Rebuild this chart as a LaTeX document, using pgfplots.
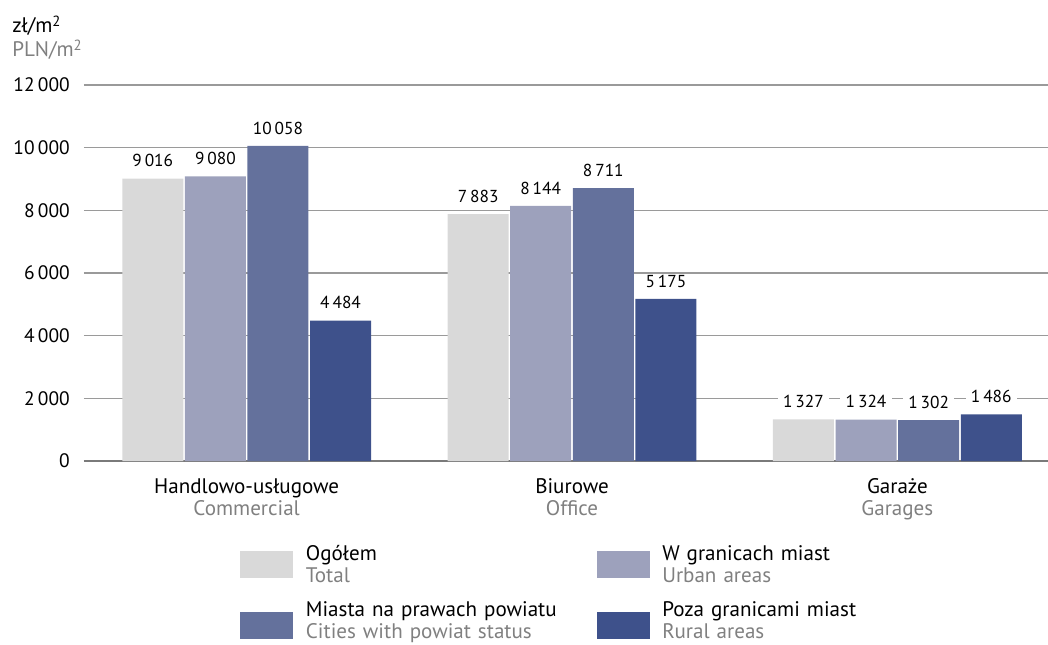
\documentclass[border=0pt]{standalone}
\usepackage{fontspec}
\setmainfont{PT Sans}
\usepackage{pgfplots}
\pgfplotsset{compat=1.18}

\definecolor{c1}{HTML}{D9D9D9}
\definecolor{c2}{HTML}{9DA1BC}
\definecolor{c3}{HTML}{64719C}
\definecolor{c4}{HTML}{3E518B}
\definecolor{txtgray}{HTML}{808080}
\definecolor{gridgray}{HTML}{9A9A9A}
\definecolor{axisgray}{HTML}{7A7A7A}

% legend swatches: first row and second row sit differently against the text
\pgfplotsset{
    swatchA/.style={legend image code/.code={
        \fill[##1, draw=none] (0pt,-18.25pt) rectangle (39.75pt,1.95pt);
        \path (47.25pt,0pt);}},
    swatchB/.style={legend image code/.code={
        \fill[##1, draw=none] (0pt,-22pt) rectangle (39.75pt,-1.8pt);
        \path (47.25pt,0pt);}},
}

\begin{document}
\begin{tikzpicture}[font=\fontsize{15.8}{16.5}\selectfont]
\useasboundingbox (-63pt,-137.25pt) rectangle (723pt,345.75pt);
\begin{axis}[
    at={(0,0)}, anchor=south west,
    scale only axis, width=723pt, height=282pt,
    ymin=0, ymax=12000, xmin=-0.5, xmax=2.463,
    ybar=1.2pt, bar width=45.75pt,
    separate axis lines,
    axis x line*=bottom, axis y line*=left,
    x axis line style={draw=axisgray, line width=1.2pt},
    y axis line style={draw=none},
    major tick length=0pt,
    ymajorgrids, grid style={draw=gridgray, line width=0.8pt},
    ytick={0,2000,...,12000},
    scaled y ticks=false,
    xtick={0,1,2},
    xticklabels={{Handlowo-usługowe\\\textcolor{txtgray}{Commercial}},
                 {Biurowe\\\textcolor{txtgray}{Office}},
                 {Garaże\\\textcolor{txtgray}{Garages}}},
    xticklabel style={align=center, anchor=north, inner sep=0pt, yshift=-13pt},
    yticklabel style={anchor=east, inner sep=0pt, xshift=-10.5pt,
        font=\fontsize{14.6}{16}\selectfont},
    /pgf/number format/1000 sep={\,},
    /pgf/number format/assume math mode=true,
    nodes near coords,
    every node near coord/.append style={text=black, fill=white,
        font=\fontsize{13}{15}\selectfont,
        inner xsep=4pt, inner ysep=0.5pt, yshift=8pt},
    legend style={at={(0,0)}, anchor=north west, xshift=117pt, yshift=-61pt,
        draw=none, fill=none, inner sep=0pt, column sep=0pt, row sep=15.25pt,
        cells={anchor=west, align=left, text width=216pt, inner sep=0pt}},
    legend columns=2,
]
\addplot[fill=c1, draw=none, swatchA] coordinates {(0,9016) (1,7883) (2,1327)};
\addlegendentry{Ogółem\\\textcolor{txtgray}{Total}}
\addplot[fill=c2, draw=none, swatchA] coordinates {(0,9080) (1,8144) (2,1324)};
\addlegendentry{W granicach miast\\\textcolor{txtgray}{Urban areas}}
\addplot[fill=c3, draw=none, swatchB] coordinates {(0,10058) (1,8711) (2,1302)};
\addlegendentry{Miasta na prawach powiatu\\\textcolor{txtgray}{Cities with powiat status}}
\addplot[fill=c4, draw=none, swatchB] coordinates {(0,4484) (1,5175) (2,1486)};
\addlegendentry{Poza granicami miast\\\textcolor{txtgray}{Rural areas}}
\end{axis}
\node[anchor=base west, inner sep=0pt] at (-54pt,321pt) {zł/m\textsuperscript{2}};
\node[anchor=base west, inner sep=0pt, text=txtgray] at (-54pt,303pt) {PLN/m\textsuperscript{2}};
\end{tikzpicture}
\end{document}
